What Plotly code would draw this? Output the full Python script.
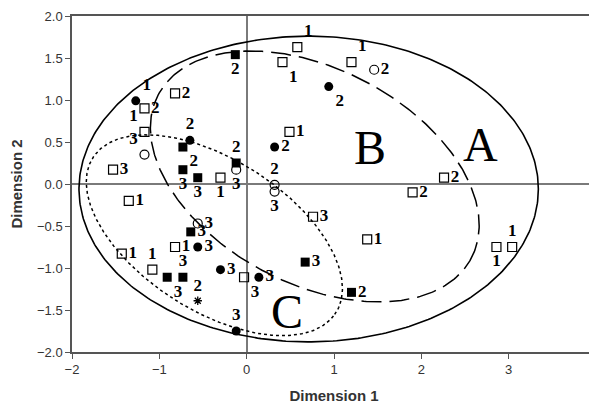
import numpy as np
import plotly.graph_objects as go

# ---- data ----
osq_x = [0.58, 0.41, 1.20, -1.17, -0.82, -1.17, -0.30, -1.53, 0.49, 2.26, 1.90, 0.76, 1.38, 2.86, 3.04, -1.35, -0.82, -1.43, -1.08, -0.03]
osq_y = [1.63, 1.45, 1.45, 0.90, 1.08, 0.62, 0.075, 0.17, 0.62, 0.075, -0.10, -0.39, -0.66, -0.75, -0.75, -0.20, -0.75, -0.83, -1.02, -1.11]
osq_lab = ["1", "1", "1", "2", "2", "1", "1", "3", "1", "2", "2", "3", "1", "1", "1", "1", "1", "1", "1", "3"]

fsq_x = [-0.13, -0.73, -0.73, -0.56, -0.12, 0.67, 1.20, -0.64, -0.91, -0.73]
fsq_y = [1.54, 0.44, 0.17, 0.075, 0.25, -0.93, -1.29, -0.57, -1.11, -1.11]
fsq_lab = ["2", "2", "3", "3", "2", "3", "2", "3", "3", "3"]

fci_x = [0.94, -1.27, -0.65, 0.32, -0.56, -0.30, 0.14, -0.12]
fci_y = [1.16, 0.99, 0.52, 0.44, -0.75, -1.02, -1.11, -1.75]
fci_lab = ["2", "1", "2", "2", "3", "3", "3", "3"]

oci_x = [1.46, -1.17, -0.12, 0.32, 0.32, -0.56]
oci_y = [1.36, 0.35, 0.17, -0.01, -0.09, -0.47]
oci_lab = ["2", "3", "3", "2", "3", "3"]

ast_x = [-0.56]
ast_y = [-1.39]
ast_lab = ["2"]

# ellipse parameters: centre x, centre y, semi-axis a, semi-axis b, angle (deg)
ell_A = [0.71, -0.06, 2.63, 1.82, 0.0]
ell_B = [0.78, 0.09, 2.04, 1.27, -29.5]
ell_C = [-0.37, -0.61, 1.67, 0.89, -34.4]

region_labels = ["A", "B", "C"]
region_x = [2.68, 1.41, 0.46]
region_y = [0.47, 0.44, -1.52]

# ---- styles ----
osq_pos = ["top right", "bottom right", "top right", "middle right", "middle right", "top left",
           "bottom center", "middle right", "middle right", "middle right", "middle right", "middle right",
           "middle right", "bottom center", "top center", "middle right", "middle right", "middle right",
           "top center", "bottom right"]
fsq_pos = ["bottom center", "bottom right", "bottom center", "bottom center", "top center",
           "middle right", "middle right", "middle right", "bottom right", "top center"]
fci_pos = ["bottom right", "top right", "top center", "middle right", "middle right", "middle right",
           "middle right", "top center"]
oci_pos = ["middle right", "top left", "bottom center", "top center", "bottom center", "middle right"]
ast_pos = ["top center"]

lab_font = dict(family="Liberation Serif", size=17, color="black", weight="bold")


def ellipse(p, n=400):
    cx, cy, a, b, ang = p
    t = np.linspace(0, 2 * np.pi, n)
    th = np.deg2rad(ang)
    x = cx + a * np.cos(t) * np.cos(th) - b * np.sin(t) * np.sin(th)
    y = cy + a * np.cos(t) * np.sin(th) + b * np.sin(t) * np.cos(th)
    return x, y


fig = go.Figure()

for p, dash, w in [(ell_A, "solid", 1.6), (ell_B, "20px,8px", 1.5), (ell_C, "dot", 1.5)]:
    ex, ey = ellipse(p)
    fig.add_trace(go.Scatter(x=ex, y=ey, mode="lines", line=dict(color="black", width=w, dash=dash),
                             hoverinfo="skip", showlegend=False))


def pts(x, y, lab, pos, symbol, size, lw=1.2):
    fig.add_trace(go.Scatter(x=x, y=y, mode="markers+text", text=lab, textposition=pos,
                             textfont=lab_font,
                             marker=dict(symbol=symbol, size=size, color="black",
                                         line=dict(color="black", width=lw)),
                             showlegend=False))


pts(osq_x, osq_y, osq_lab, osq_pos, "square-open", 9)
pts(fsq_x, fsq_y, fsq_lab, fsq_pos, "square", 9, 0)
pts(fci_x, fci_y, fci_lab, fci_pos, "circle", 9, 0)
pts(oci_x, oci_y, oci_lab, oci_pos, "circle-open", 9)
pts(ast_x, ast_y, ast_lab, ast_pos, "asterisk-open", 7, 1.3)

for t, x, y in zip(region_labels, region_x, region_y):
    fig.add_annotation(x=x, y=y, text=t, showarrow=False,
                       font=dict(family="Liberation Serif", size=48, color="black"))

axis_common = dict(showgrid=False, zeroline=True, zerolinecolor="#7a7a7a", zerolinewidth=1.5,
                   showline=True, linecolor="#555555", linewidth=1.5, mirror=True,
                   ticks="outside", ticklen=5, tickcolor="#555555", tickwidth=1.2, automargin=False,
                   tickfont=dict(family="Liberation Sans", size=13, color="#333333"))

# page body has an 8px default margin; size the figure to fit the 597x404 window
fig.update_layout(
    width=589, height=396,
    margin=dict(l=64, r=1, t=8, b=52),
    paper_bgcolor="white", plot_bgcolor="white",
    xaxis=dict(range=[-2, 4], dtick=1, tickformat="d",
               title=dict(text="<b>Dimension 1</b>", standoff=15,
                          font=dict(family="Liberation Sans", size=15, color="#333333")),
               **axis_common),
    yaxis=dict(range=[-2, 2], dtick=0.5, tickformat=".1f",
               title=dict(text="<b>Dimension 2</b>", standoff=11,
                          font=dict(family="Liberation Sans", size=15, color="#333333")),
               **axis_common),
)

fig.write_html("out.html")
